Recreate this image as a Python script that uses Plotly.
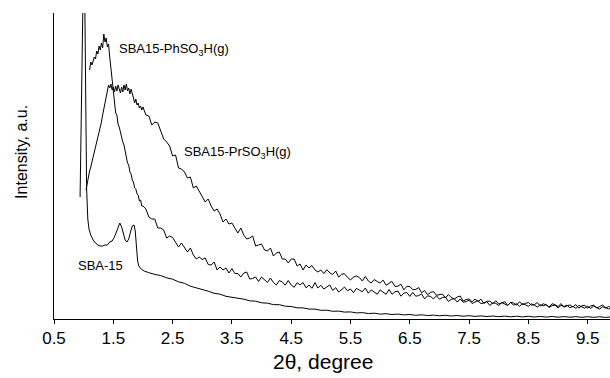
import numpy as np
import plotly.graph_objects as go

# ---------------- data (2theta in degrees, intensity in a.u.) ----------------
# SBA-15: explicit low-angle part, then tail sampled every 0.1 deg from 2.1
sba_x_head = [0.94, 0.975, 0.995, 1.015, 1.035, 1.05, 1.07, 1.09, 1.12, 1.16, 1.20, 1.24, 1.28,
              1.32, 1.36, 1.40, 1.44, 1.48, 1.52, 1.55, 1.58, 1.61, 1.64, 1.67, 1.70, 1.73,
              1.76, 1.79, 1.82, 1.85, 1.87, 1.89, 1.91, 1.93, 1.97, 2.02, 2.06]
sba_y_head = [122, 250, 345, 345, 230, 130, 100, 90, 84, 79, 76, 74, 73,
              73, 74, 74, 77, 78, 82, 87, 93, 96, 92, 84, 79, 77,
              80, 87, 93, 94, 88, 73, 58, 53, 50, 48, 47]
sba_tail_start, sba_tail_step = 2.1, 0.1
sba_y_tail = [46.3, 44.6, 43.4, 41.2, 39.8, 37.2, 35.7, 32.8, 31.3, 29.2,
              27.8, 25.7, 24.8, 22.7, 21.8, 20.2, 19.8, 18.2, 17.8, 16.2,
              15.8, 14.4, 14.3, 12.8, 12.5, 11.2, 11.1, 9.9, 9.9, 8.7,
              8.8, 7.7, 7.9, 6.9, 7.1, 6.1, 6.4, 5.5, 5.8, 4.9,
              5.3, 4.5, 4.9, 4.1, 4.5, 3.7, 4.2, 3.5, 3.9, 3.2,
              3.7, 3.0, 3.5, 2.8, 3.3, 2.6, 3.1, 2.5, 3.0, 2.3,
              2.9, 2.2, 2.8, 2.1, 2.7, 2.0, 2.6, 1.9, 2.5, 1.8,
              2.4, 1.8, 2.3, 1.7, 2.3, 1.7, 2.2, 1.6, 2.1]

# SBA15-PhSO3H(g): 0.02-deg steps from 1.10, then 0.05-deg steps from 2.00
ph_head_start, ph_head_step = 1.10, 0.02
ph_y_head = [249, 257, 254, 259, 262, 260, 268, 265, 273, 269,
             276, 271, 285, 277, 281, 272, 275, 262, 250, 238,
             226, 218, 206, 204, 195, 192, 186, 183, 177, 174,
             167, 164, 156, 154, 147, 145, 139, 137, 131, 130,
             125, 124, 118, 119, 113]
ph_tail_start, ph_tail_step = 2.00, 0.05
ph_y_tail = [113, 110, 102, 100, 100, 91, 91, 89, 81, 83,
             81.5, 76, 72, 76, 71, 67, 71, 64, 60, 62,
             59.5, 61, 54.5, 54, 57, 49, 52, 49, 51, 46,
             50.5, 45.5, 45.5, 42, 46, 47, 40, 40.5, 42, 37.5,
             42, 39.5, 36.5, 41, 36.5, 34, 38.5, 37, 33.8, 38.5,
             34, 31.7, 36.3, 34, 36.5, 31.2, 34, 30.7, 36.4, 31,
             33.7, 30, 31.7, 34, 28.6, 31.3, 27, 29.7, 31.9, 28.2,
             30, 26.3, 30.6, 28.9, 27.2, 31, 25.8, 29.1, 27, 24.8,
             29.1, 26.9, 24.7, 29.5, 24.8, 27.2, 28, 22.8, 25.9, 26.5,
             22.6, 26.7, 22.8, 23.4, 25, 20.1, 23.2, 22.5, 20.1, 23.2,
             19.8, 21.4, 22, 17.6, 19.7, 20.3, 16.9, 20, 16.75, 17.5,
             18.75, 15.5, 17.25, 18.5, 15.25, 16, 17.25, 13.5, 16.25, 15.6,
             13.5, 16.4, 14.75, 13.6, 16.5, 13.9, 15.25, 12.6, 15.5, 13.9,
             12.75, 15.1, 14, 11.9, 14.25, 13.1, 14.5, 11.5, 13.4, 13.8,
             11.2, 13.6, 12.5, 13.9, 11.3, 12.7, 10.6, 13.5, 11.9, 10.8,
             12.7, 10.6, 13, 11.4, 9.8, 12.2, 11.6, 10.05, 11.5]

# SBA15-PrSO3H(g): 0.02-deg steps from 1.04, then 0.05-deg steps from 2.00
pr_head_start, pr_head_step = 1.04, 0.02
pr_y_head = [129, 137, 141, 148, 152, 157, 161, 165, 170, 176,
             180, 187, 192, 197, 204, 210, 218, 222, 230, 234,
             231, 235, 229, 232, 227, 233, 228, 234, 230, 226,
             232, 227, 234, 229, 235, 228, 231, 225, 230, 224,
             221, 216, 220, 214, 216, 211, 213, 209]
pr_tail_start, pr_tail_step = 2.00, 0.05
pr_y_tail = [212, 204, 203, 194, 197, 196, 187, 180, 177, 173,
             163, 164, 151, 150, 147, 141, 142, 131, 133, 128,
             123, 117, 120, 113, 108, 110, 105, 97, 100, 95,
             96, 91, 86, 91, 84, 80, 81, 83, 73, 74,
             75, 69, 68, 71, 63, 66, 67, 60, 60, 56,
             60, 60, 53, 55, 49, 54, 51, 53.5, 49, 47,
             49, 45.4, 49.3, 46.2, 44.6, 48, 41.9, 44.8, 45.2, 41.6,
             39, 42, 43, 41.5, 38, 42.5, 38, 36, 39.5, 37.5,
             36, 38.9, 33.8, 35.7, 37.6, 32.5, 32.9, 34.8, 29.2, 32.6,
             32.5, 29.3, 29.6, 31.4, 26.2, 28.5, 24.3, 26.6, 27.4, 23.7,
             24, 25, 21, 24.5, 21.5, 20, 22, 23, 18, 19.5,
             20, 17.2, 19.9, 17.6, 19.8, 15.5, 17.7, 17.9, 15.1, 18.3,
             15, 15.9, 17.3, 13.7, 16.6, 16, 13.9, 17.3, 14.2, 15.6,
             16.5, 13.85, 14.2, 16.55, 12.9, 15.25, 14.1, 11.95, 15.3, 14.15,
             12.5, 15.4, 11.8, 13.2, 14.1, 12, 14.4, 10.8, 13.2, 13.6,
             11, 12.94, 13.88, 11.31, 12.25, 14.19, 10.62, 12.56, 11.5]

x_ticks = [0.5, 1.5, 2.5, 3.5, 4.5, 5.5, 6.5, 7.5, 8.5, 9.5]
x_tick_text = ["0.5", "1.5", "2.5", "3.5", "4.5", "5.5", "6.5", "7.5", "8.5", "9.5"]

# ---------------- assemble series ----------------
def grid(start, step, n):
    return list(np.round(start + step * np.arange(n), 3))

sba_x = sba_x_head + grid(sba_tail_start, sba_tail_step, len(sba_y_tail))
sba_y = sba_y_head + sba_y_tail
ph_x = grid(ph_head_start, ph_head_step, len(ph_y_head)) + grid(ph_tail_start, ph_tail_step, len(ph_y_tail))
ph_y = ph_y_head + ph_y_tail
pr_x = grid(pr_head_start, pr_head_step, len(pr_y_head)) + grid(pr_tail_start, pr_tail_step, len(pr_y_tail))
pr_y = pr_y_head + pr_y_tail

line_style = dict(color="black", width=1)
fig = go.Figure()
fig.add_trace(go.Scatter(x=sba_x, y=sba_y, mode="lines", line=line_style, name="SBA-15"))
fig.add_trace(go.Scatter(x=ph_x, y=ph_y, mode="lines", line=line_style, name="SBA15-PhSO3H(g)"))
fig.add_trace(go.Scatter(x=pr_x, y=pr_y, mode="lines", line=line_style, name="SBA15-PrSO3H(g)"))

font_main = "Liberation Sans, Arial, sans-serif"
label_font = dict(family=font_main, size=13, color="black")

fig.update_layout(
    width=610, height=378,
    margin=dict(l=54, r=0, t=13, b=59),
    paper_bgcolor="white", plot_bgcolor="white",
    showlegend=False,
    font=dict(family=font_main, color="black"),
    xaxis=dict(range=[0.5, 9.876], tickmode="array", tickvals=x_ticks, ticktext=x_tick_text,
               ticks="outside", ticklen=4, tickwidth=1, tickcolor="black",
               showline=True, linecolor="black", linewidth=1,
               showgrid=False, zeroline=False, tickfont=dict(size=17, family=font_main)),
    yaxis=dict(range=[0, 306], showticklabels=False, ticks="",
               showline=True, linecolor="black", linewidth=1,
               showgrid=False, zeroline=False),
    annotations=[
        dict(text="SBA15-PhSO<sub>3</sub>H(g)", x=1.56, y=270, xref="x", yref="y",
             xanchor="left", yanchor="middle", showarrow=False, font=label_font),
        dict(text="SBA15-PrSO<sub>3</sub>H(g)", x=2.66, y=167, xref="x", yref="y",
             xanchor="left", yanchor="middle", showarrow=False, font=label_font),
        dict(text="SBA-15", x=0.87, y=54, xref="x", yref="y",
             xanchor="left", yanchor="middle", showarrow=False, font=label_font),
        dict(text="2θ, degree", x=0.484, y=-0.14, xref="paper", yref="paper",
             xanchor="center", yanchor="middle", showarrow=False,
             font=dict(family=font_main, size=21, color="black")),
        dict(text="Intensity, a.u.", x=-0.0576, y=0.546, xref="paper", yref="paper",
             xanchor="center", yanchor="middle", textangle=-90, showarrow=False,
             font=dict(family=font_main, size=16, color="black")),
    ],
)

fig.write_html("out.html")
